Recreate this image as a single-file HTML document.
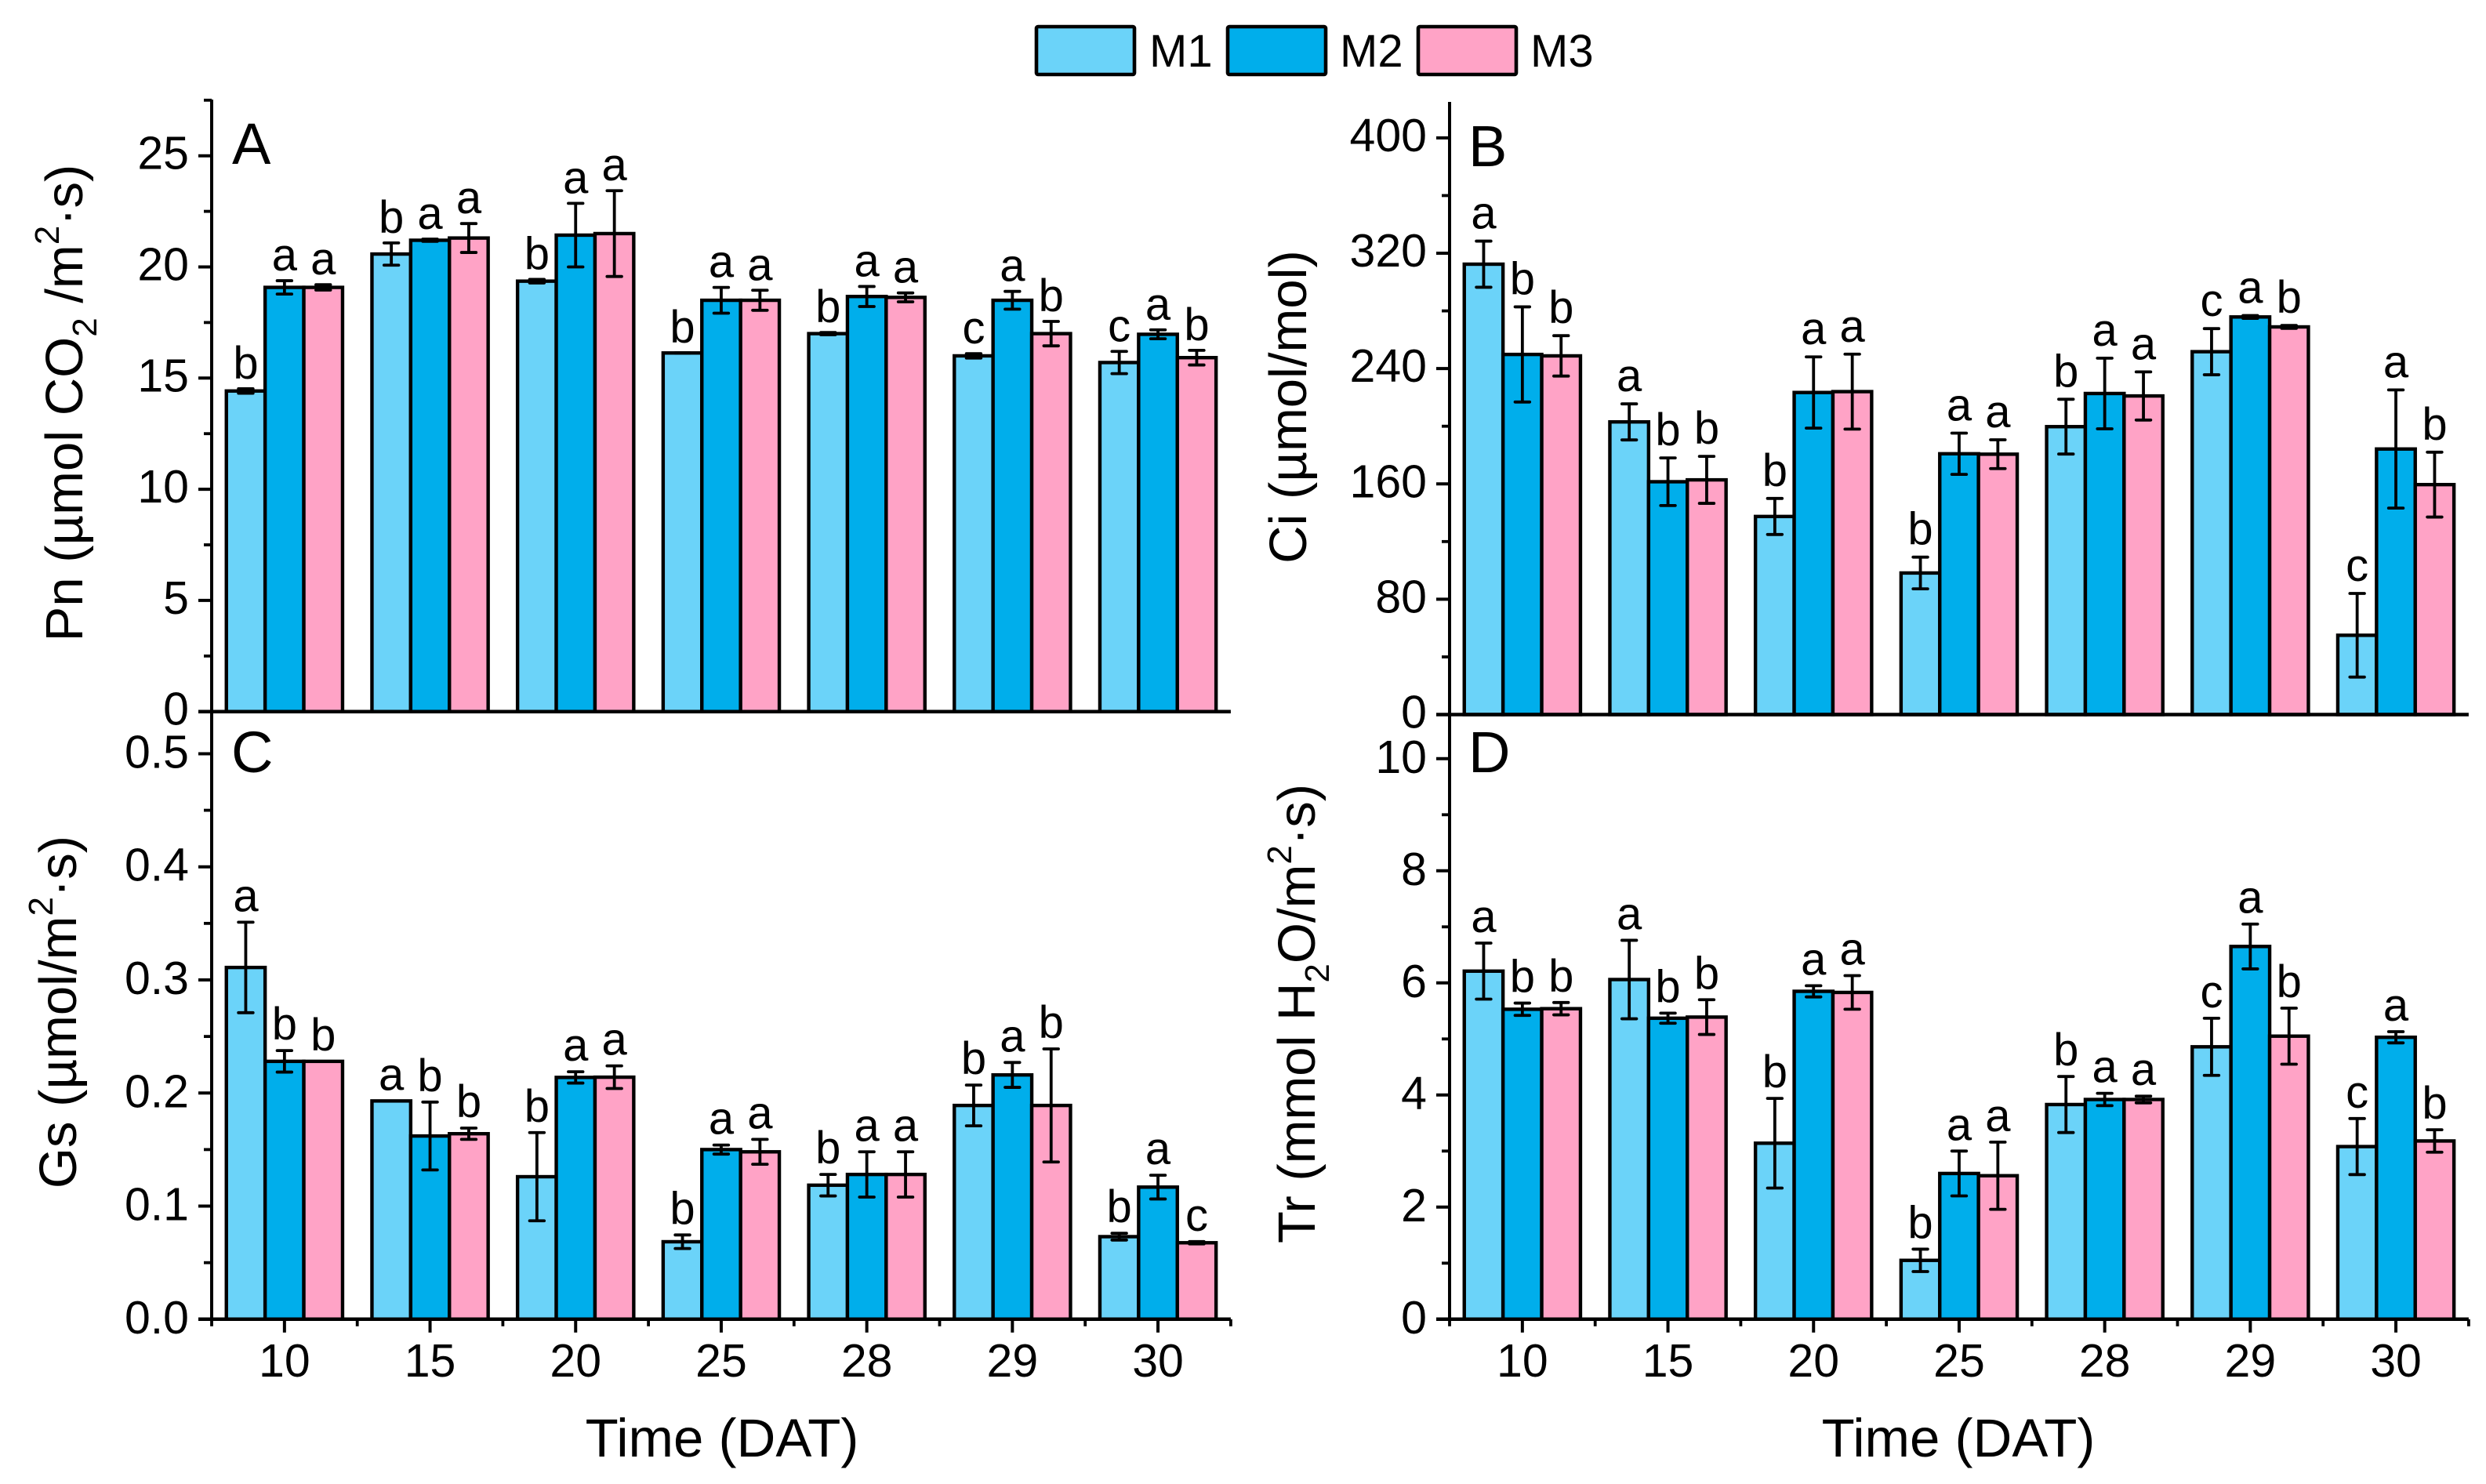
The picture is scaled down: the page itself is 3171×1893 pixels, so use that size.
<!DOCTYPE html>
<html lang="en">
<head>
<meta charset="utf-8">
<title>Photosynthetic parameters by time and treatment</title>
<style>
html,body{margin:0;padding:0;background:#fff;width:3171px;height:1893px;overflow:hidden}
svg{display:block;font-family:"Liberation Sans",Arial,sans-serif;fill:#000}
</style>
</head>
<body>
<svg id="chart" width="3171" height="1893" viewBox="0 0 3171 1893" xmlns="http://www.w3.org/2000/svg">
  <rect x="0" y="0" width="3171" height="1893" fill="#ffffff"/>
  <g>
    <rect x="1322" y="34" width="125" height="61" rx="2" fill="#6BD3F9" stroke="#000" stroke-width="4.6"/>
    <text x="1466" y="85" font-size="58">M1</text>
    <rect x="1566" y="34" width="125" height="61" rx="2" fill="#00AEEB" stroke="#000" stroke-width="4.6"/>
    <text x="1709" y="85" font-size="58">M2</text>
    <rect x="1809" y="34" width="125" height="61" rx="2" fill="#FFA3C6" stroke="#000" stroke-width="4.6"/>
    <text x="1952" y="85" font-size="58">M3</text>
  </g>
  <g id="plots"></g>
  <text transform="translate(105,514) rotate(-90)" text-anchor="middle" font-size="67">Pn (µmol CO<tspan dy="18" font-size="44">2</tspan><tspan dy="-18"> /m</tspan><tspan dy="-30" font-size="44">2</tspan><tspan dy="30">·s)</tspan></text>
  <text transform="translate(1666,519) rotate(-90)" text-anchor="middle" font-size="67">Ci (µmol/mol)</text>
  <text transform="translate(97,1291) rotate(-90)" text-anchor="middle" font-size="67">Gs (µmol/m<tspan dy="-30" font-size="44">2</tspan><tspan dy="30">·s)</tspan></text>
  <text transform="translate(1677,1293) rotate(-90)" text-anchor="middle" font-size="67">Tr (mmol H<tspan dy="18" font-size="44">2</tspan><tspan dy="-18">O/m</tspan><tspan dy="-30" font-size="44">2</tspan><tspan dy="30">·s)</tspan></text>
  <text x="921" y="1858" text-anchor="middle" font-size="69">Time (DAT)</text>
  <text x="2498" y="1858" text-anchor="middle" font-size="69">Time (DAT)</text>
  <text x="296" y="209" font-size="74">A</text>
  <text x="1873" y="212" font-size="74">B</text>
  <text x="295" y="985" font-size="74">C</text>
  <text x="1873" y="985" font-size="74">D</text>
</svg>
<script>
var categories = ['10','15','20','25','28','29','30'];
var seriesNames = ['M1','M2','M3'];
var seriesColors = ['#6BD3F9','#00AEEB','#FFA3C6'];

var pnM1 = [14.42,20.58,19.36,16.13,17.0,16.0,15.7];
var pnM2 = [19.08,21.2,21.43,18.5,18.67,18.5,16.97];
var pnM3 = [19.08,21.3,21.5,18.5,18.63,17.0,15.92];
var pnM1Err = [0.1,0.5,0.08,0.01,0.05,0.1,0.5];
var pnM2Err = [0.3,0.05,1.43,0.58,0.45,0.4,0.2];
var pnM3Err = [0.12,0.65,1.93,0.45,0.2,0.55,0.33];
var pnM1Sig = ['b','b','b','b','b','c','c'];
var pnM2Sig = ['a','a','a','a','a','a','a'];
var pnM3Sig = ['a','a','a','a','a','b','b'];
var pnTicks = ['0','5','10','15','20','25'];

var ciM1 = [312.4,203,137.4,98.2,199.7,251.7,55];
var ciM2 = [249.8,161.5,223.4,180.9,222.7,275.8,184.2];
var ciM3 = [248.8,162.8,224,180.6,221,268.9,159.5];
var ciM1Err = [16,12.5,12.5,11,19,16,29];
var ciM2Err = [33,16.5,24.7,14.3,24.5,1,41];
var ciM3Err = [14,16.3,26,10,16.7,1,22.5];
var ciM1Sig = ['a','a','b','b','b','c','c'];
var ciM2Sig = ['b','b','a','a','a','a','a'];
var ciM3Sig = ['b','b','a','a','a','b','b'];
var ciTicks = ['0','80','160','240','320','400'];

var gsM1 = [0.311,0.193,0.126,0.0685,0.1185,0.189,0.073];
var gsM2 = [0.228,0.162,0.2138,0.15,0.128,0.216,0.1168];
var gsM3 = [0.228,0.164,0.214,0.148,0.128,0.189,0.0676];
var gsM1Err = [0.04,0,0.039,0.006,0.0095,0.018,0.003];
var gsM2Err = [0.0095,0.03,0.005,0.004,0.02,0.011,0.0105];
var gsM3Err = [0,0.005,0.01,0.011,0.02,0.05,0.001];
var gsM1Sig = ['a','a','b','b','b','b','b'];
var gsM2Sig = ['b','b','a','a','a','a','a'];
var gsM3Sig = ['b','b','a','a','a','b','c'];
var gsTicks = ['0.0','0.1','0.2','0.3','0.4','0.5'];

var trM1 = [6.21,6.06,3.14,1.05,3.83,4.86,3.08];
var trM2 = [5.53,5.37,5.85,2.6,3.92,6.65,5.03];
var trM3 = [5.54,5.39,5.83,2.56,3.92,5.05,3.18];
var trM1Err = [0.5,0.7,0.8,0.2,0.5,0.51,0.5];
var trM2Err = [0.11,0.09,0.1,0.4,0.11,0.4,0.1];
var trM3Err = [0.11,0.31,0.3,0.6,0.06,0.5,0.2];
var trM1Sig = ['a','a','b','b','b','c','c'];
var trM2Sig = ['b','b','a','a','a','a','a'];
var trM3Sig = ['b','b','a','a','a','b','b'];
var trTicks = ['0','2','4','6','8','10'];

var SVGNS = 'http://www.w3.org/2000/svg';
var root = document.getElementById('plots');

function make(tag, parent, attrs) {
  var el = document.createElementNS(SVGNS, tag);
  for (var k in attrs) { el.setAttribute(k, attrs[k]); }
  parent.appendChild(el);
  return el;
}

function drawPanel(p) {
  var g = make('g', root, {});
  
  

  var yOf = function (v) { return p.base - v * p.unit; };
  var xOf = function (i) { return p.left + (i + 0.5) * p.step; };
  var barW = 49.4;

  // bars
  p.values.forEach(function (vals, s) {
    vals.forEach(function (v, i) {
      var x0 = xOf(i) - 1.5 * barW + s * barW;
      var bar = make('rect', g, {
        x: x0, y: yOf(v), width: barW, height: Math.max(0, p.base - yOf(v)),
        fill: seriesColors[s], stroke: '#000', 'stroke-width': 4.4
      });
      
      
    });
  });

  // error bars and significance letters
  p.values.forEach(function (vals, s) {
    vals.forEach(function (v, i) {
      var cx = xOf(i) - barW + s * barW;
      var e = p.errors[s][i];
      var hi = yOf(v + e), lo = yOf(v - e);
      var eb = make('path', g, {
        d: 'M' + (cx - 9.3) + ' ' + hi + 'H' + (cx + 9.3) + 'M' + cx + ' ' + hi + 'V' + lo + 'M' + (cx - 9.3) + ' ' + lo + 'H' + (cx + 9.3),
        fill: 'none', stroke: '#000', 'stroke-width': 3.8, 'stroke-linecap': 'round'
      });
      
      

      var lab = make('text', g, {
        x: cx, y: hi - p.gap, 'text-anchor': 'middle', 'font-size': 58
      });
      lab.textContent = p.letters[s][i];
      
      
    });
  });

  // y axis
  var yAxis = make('line', g, {
    x1: p.left, x2: p.left, y1: p.top, y2: p.base + 2, stroke: '#000', 'stroke-width': 4
  });
  
  

  // y ticks
  var major = p.majorStep;
  p.ticks.forEach(function (t) {
    var v = parseFloat(t);
    var tick = make('line', g, {
      x1: p.left - 17, x2: p.left, y1: yOf(v), y2: yOf(v), stroke: '#000', 'stroke-width': 4
    });
    
    
    var lab = make('text', g, {
      x: p.left - 29, y: yOf(v) + p.labelDy, 'text-anchor': 'end', 'font-size': 59
    });
    lab.textContent = t;
    
    
  });
  for (var m = major / 2; m <= p.maxMinor + 1e-9; m += major) {
    var mt = make('line', g, {
      x1: p.left - 10, x2: p.left, y1: yOf(m), y2: yOf(m), stroke: '#000', 'stroke-width': 3.8
    });
    
    
  }

  // x axis
  var xAxis = make('line', g, {
    x1: p.left - 17, x2: p.left + p.step * categories.length, y1: p.base, y2: p.base, stroke: '#000', 'stroke-width': 4.5
  });
  
  

  if (p.showX) {
    categories.forEach(function (c, i) {
      var xt = make('line', g, {
        x1: xOf(i), x2: xOf(i), y1: p.base, y2: p.base + 17, stroke: '#000', 'stroke-width': 4
      });
      
      
      var xl = make('text', g, {
        x: xOf(i), y: 1756, 'text-anchor': 'middle', 'font-size': 59
      });
      xl.textContent = c;
      
      
    });
    for (var b = 0; b <= categories.length; b++) {
      var bx = p.left + b * p.step;
      var xm = make('line', g, {
        x1: bx, x2: bx, y1: p.base, y2: p.base + 9, stroke: '#000', 'stroke-width': 3.8
      });
      
      
    }
  }
}

drawPanel({ key:'a', left:270, step:185.7, base:907.7, unit:28.36, top:127, gap:13, labelDy:17, majorStep:5, maxMinor:27.5, showX:false,
  ticks:pnTicks, values:[pnM1,pnM2,pnM3], errors:[pnM1Err,pnM2Err,pnM3Err], letters:[pnM1Sig,pnM2Sig,pnM3Sig] });
drawPanel({ key:'b', left:1849, step:185.7, base:911.5, unit:1.839, top:130, gap:16, labelDy:17, majorStep:80, maxMinor:360, showX:false,
  ticks:ciTicks, values:[ciM1,ciM2,ciM3], errors:[ciM1Err,ciM2Err,ciM3Err], letters:[ciM1Sig,ciM2Sig,ciM3Sig] });
drawPanel({ key:'c', left:270, step:185.7, base:1682.8, unit:1442.7, top:907, gap:14, labelDy:18, majorStep:0.1, maxMinor:0.45, showX:true,
  ticks:gsTicks, values:[gsM1,gsM2,gsM3], errors:[gsM1Err,gsM2Err,gsM3Err], letters:[gsM1Sig,gsM2Sig,gsM3Sig] });
drawPanel({ key:'d', left:1849, step:185.7, base:1682.8, unit:71.5, top:912, gap:14, labelDy:18, majorStep:2, maxMinor:9, showX:true,
  ticks:trTicks, values:[trM1,trM2,trM3], errors:[trM1Err,trM2Err,trM3Err], letters:[trM1Sig,trM2Sig,trM3Sig] });
</script>
</body>
</html>
